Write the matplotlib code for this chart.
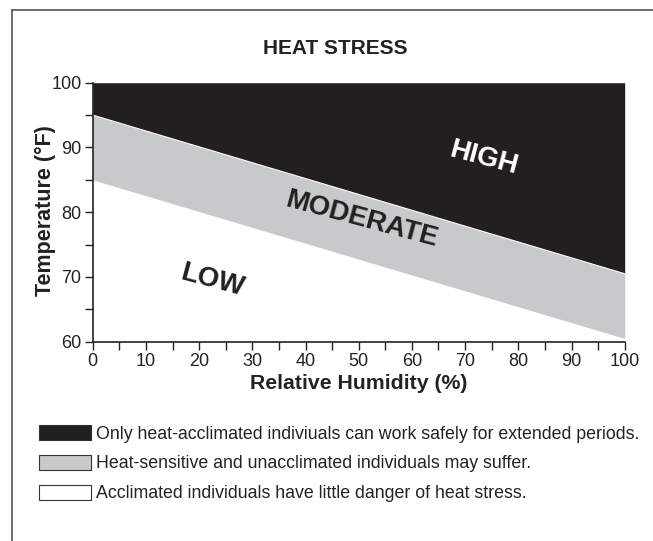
import matplotlib
matplotlib.use("Agg")
import matplotlib.pyplot as plt
from matplotlib.patches import Patch
from matplotlib.lines import Line2D

plt.rcParams['font.family'] = ['Liberation Sans', 'DejaVu Sans']

# Data
humidity = [0, 100]
high_threshold = [95, 70.5]
moderate_threshold = [85, 60.5]
y_min, y_max = 60, 100
zone_labels = ["HIGH", "MODERATE", "LOW"]
zone_label_pos = [(73.5, 88.3), (50.5, 78.8), (22.5, 69.4)]
legend_texts = [
    "Only heat-acclimated indiviuals can work safely for extended periods.",
    "Heat-sensitive and unacclimated individuals may suffer.",
    "Acclimated individuals have little danger of heat stress.",
]
x_ticks = list(range(0, 101, 10))
y_ticks = list(range(60, 101, 10))

BLACK = "#231f20"
GRAY = "#c8c9cb"
W, H = 653, 541

fig = plt.figure(figsize=(W / 100, H / 100), dpi=100)
ax = fig.add_axes([92.7 / W, 1 - 341.7 / H, (624.7 - 92.7) / W, (341.7 - 82.7) / H])

ax.fill_between(humidity, high_threshold, [y_max] * len(humidity), color=BLACK, linewidth=0)
ax.fill_between(humidity, moderate_threshold, high_threshold, color=GRAY, linewidth=0)
ax.plot(humidity, high_threshold, color="white", linewidth=0.8)

ax.set_xlim(0, 100)
ax.set_ylim(y_min, y_max)
ax.set_xticks(x_ticks)
ax.set_yticks(y_ticks)
ax.set_xticks(list(range(5, 100, 10)), minor=True)
ax.set_yticks(list(range(65, 100, 10)), minor=True)
ax.tick_params(axis='both', which='major', length=6, width=1.0, labelsize=13, color="#222222", labelcolor="#222222", pad=2)
ax.tick_params(axis='both', which='minor', length=6, width=1.0, color="#222222")
for s in ['top', 'right']:
    ax.spines[s].set_visible(False)
for s in ['left', 'bottom']:
    ax.spines[s].set_linewidth(1.2)
    ax.spines[s].set_color("#222222")

ax.set_xlabel("Relative Humidity (%)", fontsize=15.3, fontweight='bold', color="#222222", labelpad=3)
ax.set_ylabel("Temperature (°F)", fontsize=15.5, fontweight='bold', color="#222222", va='center')
ax.yaxis.set_label_coords((45 - 92.7) / 532, 0.505)

colors_txt = ["white", BLACK, BLACK]
for lab, (x, y), c in zip(zone_labels, zone_label_pos, colors_txt):
    ax.text(x, y, lab, rotation=-15, ha='center', va='center', fontsize=20,
            fontweight='heavy', color=c, rotation_mode='anchor')

fig.text(335 / W, 1 - 48 / H, "HEAT STRESS", ha='center', va='center', fontsize=15,
         fontweight='bold', color="#222222")

handles = [Patch(facecolor=BLACK, edgecolor="#333333", linewidth=0.8),
           Patch(facecolor=GRAY, edgecolor="#333333", linewidth=0.8),
           Patch(facecolor="white", edgecolor="#333333", linewidth=0.8)]
fig.legend(handles, legend_texts, loc='upper left', bbox_to_anchor=(39 / W, 1 - 425 / H),
           frameon=False, fontsize=12.8, handlelength=2.92, handleheight=0.9,
           handletextpad=0.28, labelspacing=0.7, borderpad=0, borderaxespad=0,
           labelcolor="#222222")

# figure frame lines (top and left)
fig.add_artist(Line2D([12 / W, 1], [1 - 10 / H, 1 - 10 / H], color="#555555", linewidth=1.2,
                      transform=fig.transFigure))
fig.add_artist(Line2D([12 / W, 12 / W], [1 - 10 / H, 0], color="#555555", linewidth=1.2,
                      transform=fig.transFigure))

fig.savefig("out.png", dpi=100)
